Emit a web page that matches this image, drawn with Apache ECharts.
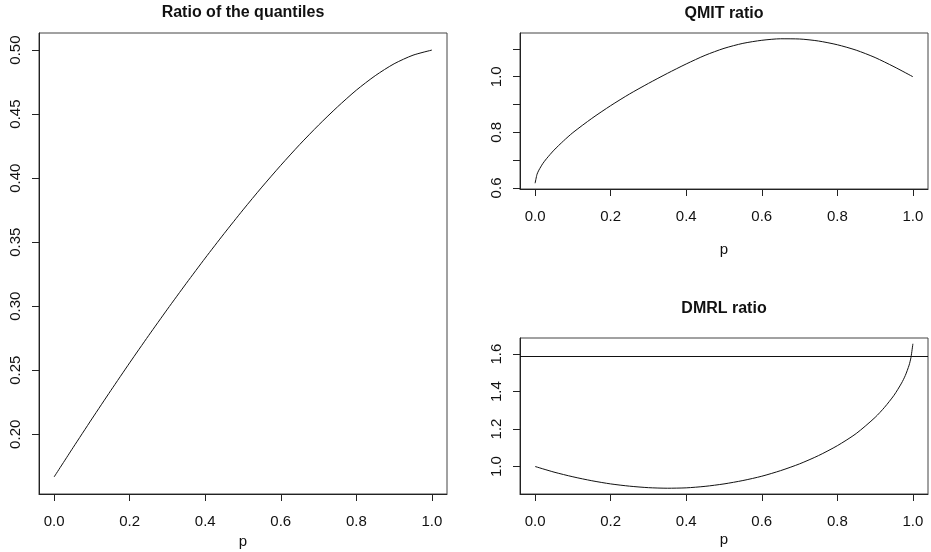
<!DOCTYPE html>
<html>
<head>
<meta charset="utf-8">
<script src="https://cdn.jsdelivr.net/npm/echarts@6/dist/echarts.min.js"></script>
<style>
html, body { margin: 0; padding: 0; background: #fff; }
#chart { width: 931px; height: 552px; }
</style>
</head>
<body>
<div id="chart"></div>
<script>
// values
var pQuant = [0, 0.05, 0.1, 0.15, 0.2, 0.25, 0.3, 0.35, 0.4, 0.45, 0.5,
              0.55, 0.6, 0.65, 0.7, 0.75, 0.8, 0.85, 0.9, 0.95, 1];
var quantRatio = [0.1667, 0.1895, 0.2120, 0.2341, 0.2558, 0.2770, 0.2977, 0.3179, 0.3376, 0.3567, 0.3752,
                  0.3930, 0.4100, 0.4262, 0.4414, 0.4556, 0.4687, 0.4800, 0.4893, 0.4960, 0.5000];

var pQmit = [0, 0.005, 0.01, 0.02, 0.03, 0.05, 0.075, 0.1, 0.15, 0.2, 0.25, 0.3, 0.35, 0.4,
             0.45, 0.5, 0.55, 0.6, 0.65, 0.7, 0.75, 0.8, 0.85, 0.9, 0.95, 1];
var qmitRatio = [0.617, 0.649, 0.664, 0.687, 0.705, 0.736, 0.769, 0.799, 0.850, 0.896, 0.938, 0.976, 1.012, 1.046,
                 1.077, 1.102, 1.120, 1.131, 1.1365, 1.1357, 1.1285, 1.115, 1.0955, 1.069, 1.036, 1.000];

var pDmrl = [0, 0.05, 0.1, 0.15, 0.2, 0.25, 0.3, 0.35, 0.4, 0.45, 0.5, 0.55, 0.6, 0.65,
             0.7, 0.75, 0.8, 0.85, 0.9, 0.925, 0.95, 0.97, 0.98, 0.99, 0.995, 1];
var dmrlRatio = [1.000, 0.970, 0.945, 0.924, 0.907, 0.895, 0.887, 0.884, 0.886, 0.894, 0.907, 0.925, 0.948, 0.978,
                 1.014, 1.058, 1.111, 1.176, 1.262, 1.316, 1.380, 1.445, 1.486, 1.541, 1.583, 1.655];
var dmrlLevel = 1.587;

var xTicks = [0, 0.2, 0.4, 0.6, 0.8, 1.0];
var quantTicks = [0.20, 0.25, 0.30, 0.35, 0.40, 0.45, 0.50];
var qmitTicks = [0.6, 0.7, 0.8, 0.9, 1.0, 1.1];
var qmitLabels = [0.6, 0.8, 1.0];
var dmrlTicks = [1.0, 1.2, 1.4, 1.6];

var titles = ['Ratio of the quantiles', 'QMIT ratio', 'DMRL ratio'];

// R style axis range: data range plus 4% each side
function rRange(vals) {
    var lo = Math.min.apply(null, vals), hi = Math.max.apply(null, vals);
    var d = (hi - lo) * 0.04;
    return [lo - d, hi + d];
}
function pairs(xs, ys) {
    return xs.map(function (x, i) { return [x, ys[i]]; });
}

var font = 'Liberation Sans, Arial, Helvetica, sans-serif';
var ink = '#111';

function xAxis(idx, gap) {
    var xr = rRange(pQuant);
    return {
        type: 'value', gridIndex: idx, min: xr[0], max: xr[1],
        splitLine: { show: false },
        axisLine: { show: true, onZero: false, lineStyle: { color: '#222', width: 1 } },
        axisTick: { show: true, length: 7, lineStyle: { color: '#222' }, customValues: xTicks },
        axisLabel: {
            customValues: xTicks, margin: 20, fontSize: 15, color: ink, fontFamily: font,
            formatter: function (v) { return v.toFixed(1); }
        },
        name: 'p', nameLocation: 'middle', nameGap: gap,
        nameTextStyle: { fontSize: 15, color: ink, fontFamily: font }
    };
}
function yAxis(idx, vals, ticks, labels, digits) {
    var yr = rRange(vals);
    return {
        type: 'value', gridIndex: idx, min: yr[0], max: yr[1],
        splitLine: { show: false },
        axisLine: { show: true, onZero: false, lineStyle: { color: '#222', width: 1 } },
        axisTick: { show: true, length: 7, lineStyle: { color: '#222' }, customValues: ticks },
        axisLabel: {
            customValues: labels, rotate: 90, align: 'center', verticalAlign: 'bottom',
            margin: 16, fontSize: 15, color: ink, fontFamily: font,
            formatter: function (v) { return v.toFixed(digits); }
        }
    };
}
function line(idx, xs, ys) {
    return {
        type: 'line', xAxisIndex: idx, yAxisIndex: idx,
        data: pairs(xs, ys), showSymbol: false, smooth: 0.25,
        lineStyle: { color: ink, width: 1 }, silent: true
    };
}

var gridBox = { show: true, borderColor: '#444', borderWidth: 1, backgroundColor: 'transparent', outerBoundsMode: 'none' };

var chart = echarts.init(document.getElementById('chart'));
var dmrlSeries = line(2, pDmrl, dmrlRatio);
dmrlSeries.markLine = {
    silent: true, symbol: ['none', 'none'], label: { show: false },
    lineStyle: { color: ink, type: 'solid', width: 1 },
    data: [{ yAxis: dmrlLevel }]
};

chart.setOption({
    animation: false,
    backgroundColor: '#fff',
    title: [
        { text: titles[0], left: 243, top: 5, textAlign: 'center', padding: 0,
          textStyle: { fontSize: 16, fontWeight: 'bold', color: ink, fontFamily: font } },
        { text: titles[1], left: 724, top: 6, textAlign: 'center', padding: 0,
          textStyle: { fontSize: 16, fontWeight: 'bold', color: ink, fontFamily: font } },
        { text: titles[2], left: 724, top: 301, textAlign: 'center', padding: 0,
          textStyle: { fontSize: 16, fontWeight: 'bold', color: ink, fontFamily: font } }
    ],
    grid: [
        Object.assign({ left: 39, top: 33, width: 408, height: 461 }, gridBox),
        Object.assign({ left: 520, top: 33, width: 408, height: 156 }, gridBox),
        Object.assign({ left: 520, top: 338, width: 408, height: 156 }, gridBox)
    ],
    xAxis: [xAxis(0, 38), xAxis(1, 53), xAxis(2, 38)],
    yAxis: [
        yAxis(0, quantRatio, quantTicks, quantTicks, 2),
        yAxis(1, qmitRatio, qmitTicks, qmitLabels, 1),
        yAxis(2, dmrlRatio, dmrlTicks, dmrlTicks, 1)
    ],
    series: [
        line(0, pQuant, quantRatio),
        line(1, pQmit, qmitRatio),
        dmrlSeries
    ]
});
</script>
</body>
</html>
